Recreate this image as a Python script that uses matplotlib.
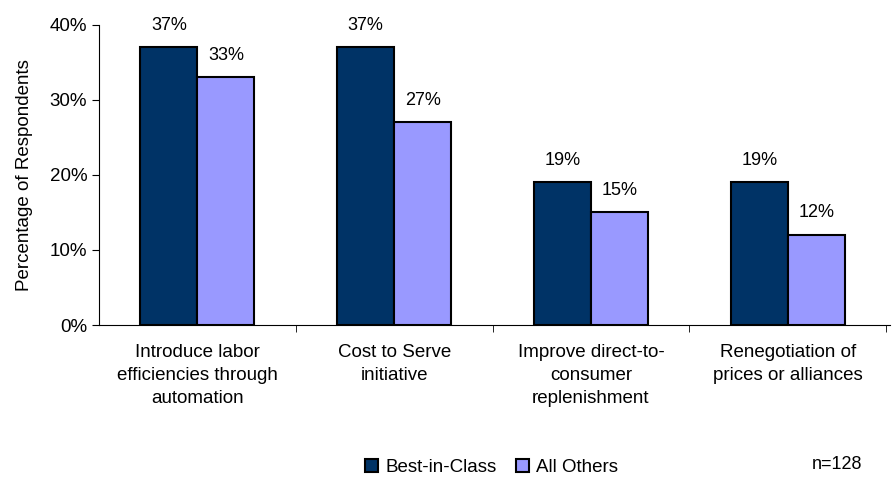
import numpy as np
import matplotlib.pyplot as plt

plt.rcParams['font.family'] = ['Liberation Sans', 'DejaVu Sans']

categories = ['Introduce labor\nefficiencies through\nautomation',
              'Cost to Serve\ninitiative',
              'Improve direct-to-\nconsumer\nreplenishment',
              'Renegotiation of\nprices or alliances']
best_in_class = [37, 37, 19, 19]
all_others = [33, 27, 15, 12]
series_names = ['Best-in-Class', 'All Others']
colors = ['#003366', '#9999FF']

fig = plt.figure(figsize=(8.94, 4.79), dpi=100)
ax = fig.add_axes([0.1107, 0.3215, 0.885, 0.6265])

x = np.arange(len(categories))
w = 0.29
b1 = ax.bar(x - w / 2, best_in_class, w, color=colors[0], edgecolor='black', linewidth=1.5,
            label=series_names[0])
b2 = ax.bar(x + w / 2, all_others, w, color=colors[1], edgecolor='black', linewidth=1.5,
            label=series_names[1])

for bars, vals in [(b1, best_in_class), (b2, all_others)]:
    for r, v in zip(bars, vals):
        ax.annotate(f'{v}%', (r.get_x() + r.get_width() / 2, v), xytext=(0, 10),
                    textcoords='offset points', ha='center', va='bottom', fontsize=13)

ax.set_ylim(0, 40)
ax.set_xlim(-0.5, len(categories) - 0.48)
ax.set_yticks([0, 10, 20, 30, 40])
ax.set_yticklabels([f'{t}%' for t in [0, 10, 20, 30, 40]], fontsize=13.5)
ax.set_ylabel('Percentage of Respondents', fontsize=13.5, labelpad=12)

ax.set_xticks(x)
ax.set_xticklabels(categories, fontsize=13.5, linespacing=1.45)
ax.tick_params(axis='x', length=0, pad=14)
ax.set_xticks(np.arange(len(categories)) + 0.5, minor=True)
ax.tick_params(axis='x', which='minor', length=5, direction='out')
ax.tick_params(axis='y', length=5, direction='out')

for s in ['top', 'right']:
    ax.spines[s].set_visible(False)

leg = fig.legend(loc='lower center', bbox_to_anchor=(0.55, -0.03), ncol=2, frameon=False,
                 fontsize=13.5, handlelength=0.7, handleheight=0.7, handletextpad=0.4,
                 columnspacing=1.0)
fig.text(0.965, 0.013, 'n=128', ha='right', va='bottom', fontsize=13)

fig.savefig('out.png', dpi=100)
